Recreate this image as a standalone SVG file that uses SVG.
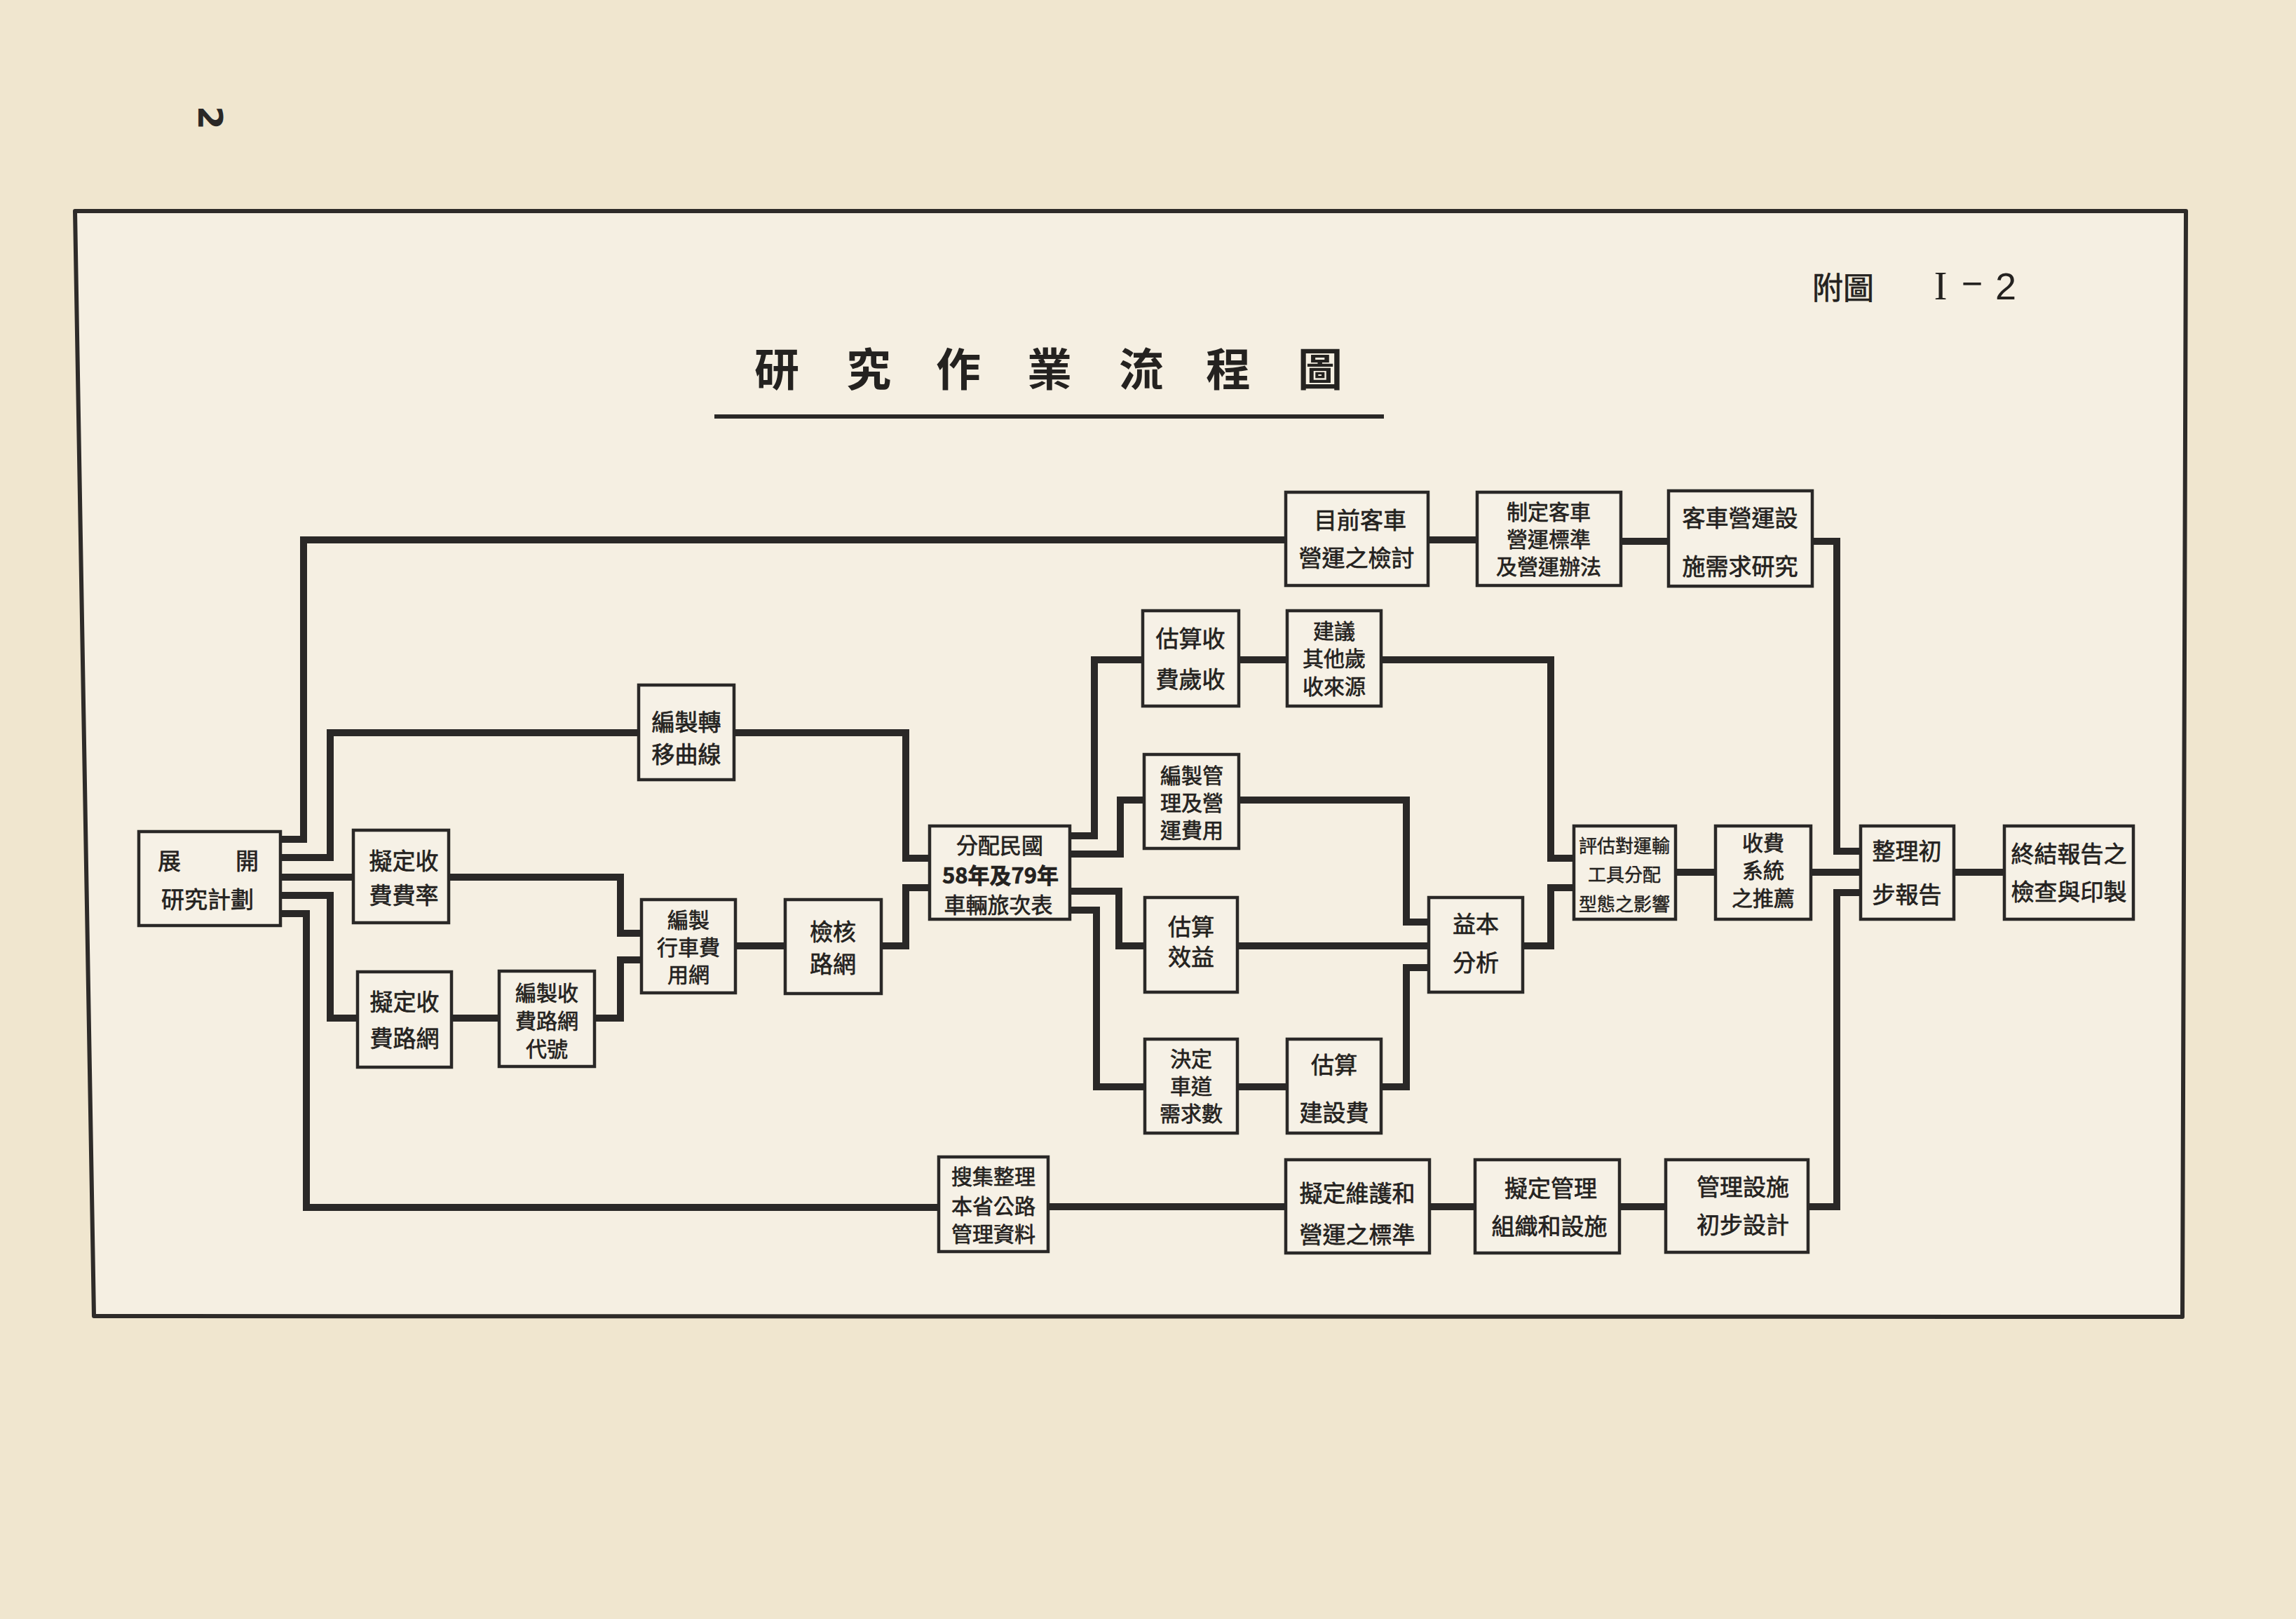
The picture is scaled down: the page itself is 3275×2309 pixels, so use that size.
<svg xmlns="http://www.w3.org/2000/svg" width="3275" height="2309" viewBox="0 0 3275 2309">
<defs>
<style>
.frame{fill:#f5efe2;stroke:#2e2b29;stroke-width:6;stroke-linejoin:round}
.box{fill:#f6f1e6;stroke:#2a2827;stroke-width:4.5}
.ln{fill:none;stroke:#2a2827;stroke-width:10;stroke-linejoin:miter;stroke-linecap:butt}
.t{font-family:"Noto Sans CJK TC","Noto Sans CJK SC",sans-serif;font-size:33px;fill:#242220;stroke:#242220;stroke-width:0.7;text-anchor:middle;dominant-baseline:central}
.m{font-size:30px}
.s{font-size:26px;stroke-width:0.5}
.title{font-family:"Noto Sans CJK TC","Noto Sans CJK SC",sans-serif;font-size:64px;font-weight:bold;fill:#242220;text-anchor:middle;dominant-baseline:central}
</style>
</defs>
<rect x="0" y="0" width="3275" height="2309" fill="#f0e6cf"/>
<path class="frame" d="M107,301 L3118,301 L3113,1878 L134,1877 Z"/>
<text x="300" y="168" font-family="DejaVu Sans, sans-serif" font-weight="bold" font-size="48" fill="#2a2827" text-anchor="middle" dominant-baseline="central" transform="rotate(90 300 168)">2</text>
<g id="title">
<text class="title" x="1108 1239 1367 1497 1628 1752 1883" y="522">研究作業流程圖</text>
<line x1="1019" y1="594" x2="1974" y2="594" stroke="#2a2827" stroke-width="6"/>
</g>
<g id="figno">
<text class="t" x="2629" y="408" style="font-size:44px">附圖</text>
<text x="2768" y="408" font-family="Liberation Serif, serif" font-size="56" fill="#242220" text-anchor="middle" dominant-baseline="central">I</text>
<text x="2813" y="404" font-family="Liberation Sans, sans-serif" font-size="52" fill="#242220" text-anchor="middle" dominant-baseline="central">−</text>
<text x="2861" y="408" font-family="Liberation Sans, sans-serif" font-size="54" fill="#242220" text-anchor="middle" dominant-baseline="central">2</text>
</g>
<g id="connectors">
<path class="ln" d="M400,1197 H433 V770 H1834"/>
<path class="ln" d="M2037,770 H2107"/>
<path class="ln" d="M2312,772 H2380"/>
<path class="ln" d="M2585,772 H2620 V1214 H2654"/>
<path class="ln" d="M400,1223 H471 V1045 H911"/>
<path class="ln" d="M1047,1045 H1292 V1224 H1326"/>
<path class="ln" d="M400,1251 H504"/>
<path class="ln" d="M640,1251 H885 V1331 H915"/>
<path class="ln" d="M400,1277 H471 V1452 H510"/>
<path class="ln" d="M644,1452 H712"/>
<path class="ln" d="M848,1452 H885 V1369 H915"/>
<path class="ln" d="M1049,1349 H1120"/>
<path class="ln" d="M1257,1349 H1292 V1266 H1326"/>
<path class="ln" d="M400,1303 H437 V1722 H1339"/>
<path class="ln" d="M1495,1721 H1834"/>
<path class="ln" d="M2039,1721 H2104"/>
<path class="ln" d="M2310,1721 H2376"/>
<path class="ln" d="M2579,1721 H2620 V1273 H2654"/>
<path class="ln" d="M1526,1192 H1561 V941 H1630"/>
<path class="ln" d="M1767,941 H1836"/>
<path class="ln" d="M1970,941 H2212 V1224 H2245"/>
<path class="ln" d="M1526,1218 H1598 V1141 H1632"/>
<path class="ln" d="M1767,1141 H2006 V1315 H2038"/>
<path class="ln" d="M1526,1271 H1596 V1349 H1633"/>
<path class="ln" d="M1765,1349 H2038"/>
<path class="ln" d="M1526,1298 H1564 V1550 H1633"/>
<path class="ln" d="M1765,1550 H1836"/>
<path class="ln" d="M1970,1550 H2006 V1380 H2038"/>
<path class="ln" d="M2172,1349 H2212 V1266 H2245"/>
<path class="ln" d="M2390,1244 H2447"/>
<path class="ln" d="M2583,1244 H2654"/>
<path class="ln" d="M2787,1244 H2859"/>
</g>
<g id="n1"><rect class="box" x="198" y="1186" width="202" height="134"/><text class="t"><tspan x="241.5" y="1226">展</tspan><tspan x="352.5" y="1226">開</tspan><tspan x="296" y="1281">研究計劃</tspan></text></g>
<g id="n2"><rect class="box" x="504" y="1184" width="136" height="132"/><text class="t"><tspan x="576" y="1226">擬定收</tspan><tspan x="576" y="1275">費費率</tspan></text></g>
<g id="n3"><rect class="box" x="510" y="1386" width="134" height="136"/><text class="t"><tspan x="577" y="1427">擬定收</tspan><tspan x="577" y="1479">費路網</tspan></text></g>
<g id="n4"><rect class="box" x="712" y="1385" width="136" height="136"/><text class="t m"><tspan x="780" y="1414">編製收</tspan><tspan x="780" y="1454">費路網</tspan><tspan x="780" y="1494">代號</tspan></text></g>
<g id="n5"><rect class="box" x="915" y="1283" width="134" height="133"/><text class="t m"><tspan x="982" y="1310">編製</tspan><tspan x="982" y="1349">行車費</tspan><tspan x="982" y="1388">用網</tspan></text></g>
<g id="n6"><rect class="box" x="1120" y="1283" width="137" height="134"/><text class="t"><tspan x="1188" y="1327">檢核</tspan><tspan x="1188" y="1373">路網</tspan></text></g>
<g id="n7"><rect class="box" x="911" y="977" width="136" height="135"/><text class="t"><tspan x="979" y="1028">編製轉</tspan><tspan x="979" y="1074">移曲線</tspan></text></g>
<g id="n8"><rect class="box" x="1326" y="1178" width="200" height="133"/><text class="t" style="font-size:31px"><tspan x="1426" y="1203">分配民國</tspan><tspan x="1427" y="1246" style="font-weight:bold">58年及79年</tspan><tspan x="1424" y="1288">車輛旅次表</tspan></text></g>
<g id="n9"><rect class="box" x="1834" y="702" width="203" height="133"/><text class="t"><tspan x="1940" y="740">目前客車</tspan><tspan x="1935" y="794">營運之檢討</tspan></text></g>
<g id="n10"><rect class="box" x="2107" y="702" width="205" height="133"/><text class="t m"><tspan x="2209" y="728">制定客車</tspan><tspan x="2209" y="767">營運標準</tspan><tspan x="2209" y="806">及營運辦法</tspan></text></g>
<g id="n11"><rect class="box" x="2380" y="700" width="205" height="136"/><text class="t"><tspan x="2482" y="737">客車營運設</tspan><tspan x="2482" y="806">施需求研究</tspan></text></g>
<g id="n12"><rect class="box" x="1630" y="871" width="137" height="136"/><text class="t"><tspan x="1698" y="909">估算收</tspan><tspan x="1698" y="967">費歲收</tspan></text></g>
<g id="n13"><rect class="box" x="1836" y="871" width="134" height="136"/><text class="t m"><tspan x="1903" y="898">建議</tspan><tspan x="1903" y="937">其他歲</tspan><tspan x="1903" y="977">收來源</tspan></text></g>
<g id="n14"><rect class="box" x="1632" y="1076" width="135" height="134"/><text class="t m"><tspan x="1700" y="1104">編製管</tspan><tspan x="1700" y="1143">理及營</tspan><tspan x="1700" y="1182">運費用</tspan></text></g>
<g id="n15"><rect class="box" x="1633" y="1280" width="132" height="135"/><text class="t"><tspan x="1699" y="1320">估算</tspan><tspan x="1699" y="1363">效益</tspan></text></g>
<g id="n16"><rect class="box" x="2038" y="1280" width="134" height="135"/><text class="t"><tspan x="2105" y="1316">益本</tspan><tspan x="2105" y="1371">分析</tspan></text></g>
<g id="n17"><rect class="box" x="1633" y="1482" width="132" height="134"/><text class="t m"><tspan x="1699" y="1508">決定</tspan><tspan x="1699" y="1547">車道</tspan><tspan x="1699" y="1586">需求數</tspan></text></g>
<g id="n18"><rect class="box" x="1836" y="1482" width="134" height="134"/><text class="t"><tspan x="1903" y="1517">估算</tspan><tspan x="1903" y="1585">建設費</tspan></text></g>
<g id="n19"><rect class="box" x="2245" y="1178" width="145" height="133"/><text class="t s"><tspan x="2317" y="1204">評估對運輸</tspan><tspan x="2317" y="1245">工具分配</tspan><tspan x="2317" y="1287">型態之影響</tspan></text></g>
<g id="n20"><rect class="box" x="2447" y="1178" width="136" height="133"/><text class="t m"><tspan x="2515" y="1200">收費</tspan><tspan x="2515" y="1239">系統</tspan><tspan x="2515" y="1279">之推薦</tspan></text></g>
<g id="n21"><rect class="box" x="2654" y="1178" width="133" height="133"/><text class="t"><tspan x="2720" y="1212">整理初</tspan><tspan x="2720" y="1274">步報告</tspan></text></g>
<g id="n22"><rect class="box" x="2859" y="1178" width="184" height="133"/><text class="t"><tspan x="2951" y="1216">終結報告之</tspan><tspan x="2951" y="1270">檢查與印製</tspan></text></g>
<g id="n23"><rect class="box" x="1339" y="1650" width="156" height="135"/><text class="t m"><tspan x="1417" y="1676">搜集整理</tspan><tspan x="1417" y="1718">本省公路</tspan><tspan x="1417" y="1758">管理資料</tspan></text></g>
<g id="n24"><rect class="box" x="1834" y="1654" width="205" height="133"/><text class="t"><tspan x="1936" y="1700">擬定維護和</tspan><tspan x="1936" y="1759">營運之標準</tspan></text></g>
<g id="n25"><rect class="box" x="2104" y="1654" width="206" height="133"/><text class="t"><tspan x="2212" y="1693">擬定管理</tspan><tspan x="2210" y="1747">組織和設施</tspan></text></g>
<g id="n26"><rect class="box" x="2376" y="1654" width="203" height="132"/><text class="t"><tspan x="2486" y="1691">管理設施</tspan><tspan x="2486" y="1745">初步設計</tspan></text></g>
</svg>
